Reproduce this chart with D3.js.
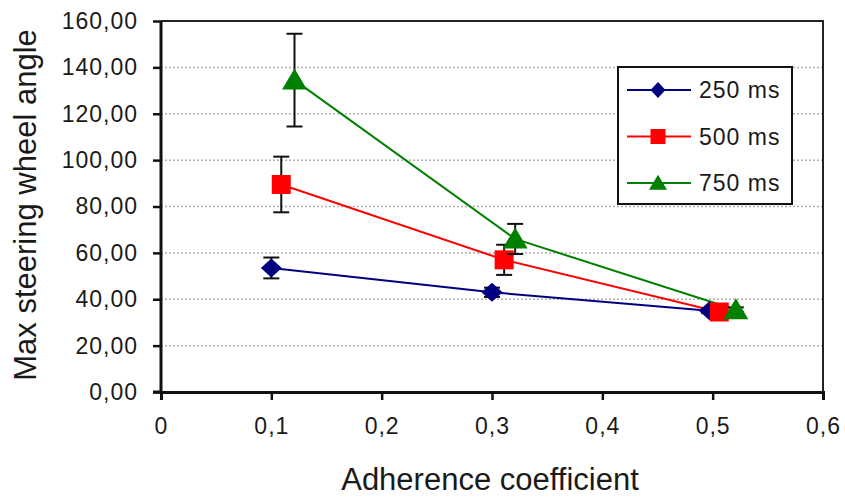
<!DOCTYPE html>
<html>
<head>
<meta charset="utf-8">
<script src="https://cdn.jsdelivr.net/npm/d3@7"></script>
<style>
  body { margin: 0; background: #fff; }
  text { font-family: "Liberation Sans", Arial, sans-serif; fill: #1a1a1a; }
</style>
</head>
<body>
<svg id="chart" width="845" height="499"></svg>
<script>
// data
const seriesNames = ['250 ms', '500 ms', '750 ms'];
const x250 = [0.1, 0.3, 0.497];
const y250 = [53.5, 43, 35];
const e250 = [4.5, 2, 1];
const x500 = [0.109, 0.311, 0.506];
const y500 = [89.5, 57, 34.5];
const e500 = [12, 6.5, 1];
const x750 = [0.121, 0.321, 0.521];
const y750 = [134.5, 66, 35.5];
const e750 = [20, 6.5, 1];
const yTicks = [0, 20, 40, 60, 80, 100, 120, 140, 160];
const xTicks = [0, 0.1, 0.2, 0.3, 0.4, 0.5, 0.6];

const colors = ['#000080', '#ff0000', '#008000'];

// excel-like marker shapes, w/h in px
const diamond = (w, h) => ({ draw(c) { c.moveTo(0, -h / 2); c.lineTo(w / 2, 0); c.lineTo(0, h / 2); c.lineTo(-w / 2, 0); c.closePath(); } });
const square = (w) => ({ draw(c) { c.rect(-w / 2, -w / 2, w, w); } });
const triangle = (w, h) => ({ draw(c) { c.moveTo(0, -h * 0.55); c.lineTo(w / 2, h * 0.45); c.lineTo(-w / 2, h * 0.45); c.closePath(); } });
const shapes = [diamond(21, 19), square(19), triangle(25, 21)];
const legendShapes = [diamond(15, 16), square(15), triangle(18, 15)];

const series = [
  { name: seriesNames[0], xs: x250, ys: y250, es: e250 },
  { name: seriesNames[1], xs: x500, ys: y500, es: e500 },
  { name: seriesNames[2], xs: x750, ys: y750, es: e750 }
].map((s, i) => ({
  ...s,
  color: colors[i],
  shape: shapes[i],
  legendShape: legendShapes[i],
  pts: s.xs.map((x, j) => ({ x, y: s.ys[j], e: s.es[j] }))
}));

const plotLeft = 161, plotRight = 823, plotTop = 21, plotBottom = 392;
const x = d3.scaleLinear().domain([0, 0.6]).range([plotLeft, plotRight]);
const y = d3.scaleLinear().domain([0, 160]).range([plotBottom, plotTop]);
const fmtY = d => d3.format('.2f')(d).replace('.', ',');
const fmtX = d => d === 0 ? '0' : d3.format('.1f')(d).replace('.', ',');

const $svg = d3.select('#chart');

// gridlines (dotted)
$svg.append('g')
  .selectAll('line')
  .data(yTicks.filter(d => d > 0 && d < 160))
  .enter().append('line')
  .attr('x1', plotLeft).attr('x2', plotRight)
  .attr('y1', d => y(d)).attr('y2', d => y(d))
  .attr('stroke', '#b0b0b0').attr('stroke-width', 1.5)
  .attr('stroke-dasharray', '2,2');

// frame top + right
$svg.append('path')
  .attr('d', `M${plotLeft},${plotTop}H${plotRight}V${plotBottom}`)
  .attr('fill', 'none').attr('stroke', '#222').attr('stroke-width', 2);

// axes
const yAxis = $svg.append('g')
  .attr('transform', `translate(${plotLeft},0)`)
  .call(d3.axisLeft(y).tickValues(yTicks).tickFormat(fmtY).tickSize(8).tickPadding(15));
const xAxis = $svg.append('g')
  .attr('transform', `translate(0,${plotBottom})`)
  .call(d3.axisBottom(x).tickValues(xTicks).tickFormat(fmtX).tickSize(8).tickPadding(18));
[yAxis, xAxis].forEach(a => {
  a.select('.domain').attr('stroke', '#111').attr('stroke-width', 3);
  a.selectAll('.tick line').attr('stroke', '#111').attr('stroke-width', 2.5);
  a.selectAll('.tick text').attr('font-size', 23).attr('fill', '#1a1a1a')
    .attr('letter-spacing', 1)
    .style('font-family', '"Liberation Sans", Arial, sans-serif');
});
yAxis.select('.domain').attr('d', `M-8,${plotBottom}H0V${plotTop}`);

// series lines
const line = d3.line().x(d => x(d.x)).y(d => y(d.y));
series.forEach(s => {
  $svg.append('path')
    .datum(s.pts)
    .attr('d', line)
    .attr('fill', 'none')
    .attr('stroke', s.color)
    .attr('stroke-width', 2);
});

// error bars + markers
series.forEach(s => {
  const g = $svg.append('g');
  const eb = g.selectAll('.eb').data(s.pts).enter().append('g').attr('class', 'eb');
  eb.append('line')
    .attr('x1', d => x(d.x)).attr('x2', d => x(d.x))
    .attr('y1', d => y(d.y + d.e)).attr('y2', d => y(d.y - d.e))
    .attr('stroke', '#111').attr('stroke-width', 2);
  [1, -1].forEach(sign => {
    eb.append('line')
      .attr('x1', d => x(d.x) - 8).attr('x2', d => x(d.x) + 8)
      .attr('y1', d => y(d.y + sign * d.e)).attr('y2', d => y(d.y + sign * d.e))
      .attr('stroke', '#111').attr('stroke-width', 2);
  });
  g.selectAll('.mk').data(s.pts).enter().append('path')
    .attr('class', 'mk')
    .attr('transform', d => `translate(${x(d.x)},${y(d.y)})`)
    .attr('d', d3.symbol().type(s.shape))
    .attr('fill', s.color);
});

// legend
const lg = $svg.append('g');
lg.append('rect')
  .attr('x', 618).attr('y', 67).attr('width', 174).attr('height', 137)
  .attr('fill', '#fff').attr('stroke', '#111').attr('stroke-width', 2);
series.forEach((s, i) => {
  const ly = 90 + i * 46.5;
  lg.append('line').attr('x1', 627).attr('x2', 691).attr('y1', ly).attr('y2', ly)
    .attr('stroke', s.color).attr('stroke-width', 2);
  lg.append('path').attr('transform', `translate(658,${ly})`)
    .attr('d', d3.symbol().type(s.legendShape))
    .attr('fill', s.color);
  lg.append('text').attr('x', 699).attr('y', ly).attr('dy', '0.36em')
    .attr('font-size', 23).attr('letter-spacing', 1).text(s.name);
});

// axis titles
$svg.append('text')
  .attr('x', 490).attr('y', 490)
  .attr('text-anchor', 'middle').attr('font-size', 31)
  .text('Adherence coefficient');
$svg.append('text')
  .attr('transform', `translate(36,205) rotate(-90)`)
  .attr('text-anchor', 'middle').attr('font-size', 31)
  .text('Max steering wheel angle');
</script>
</body>
</html>
